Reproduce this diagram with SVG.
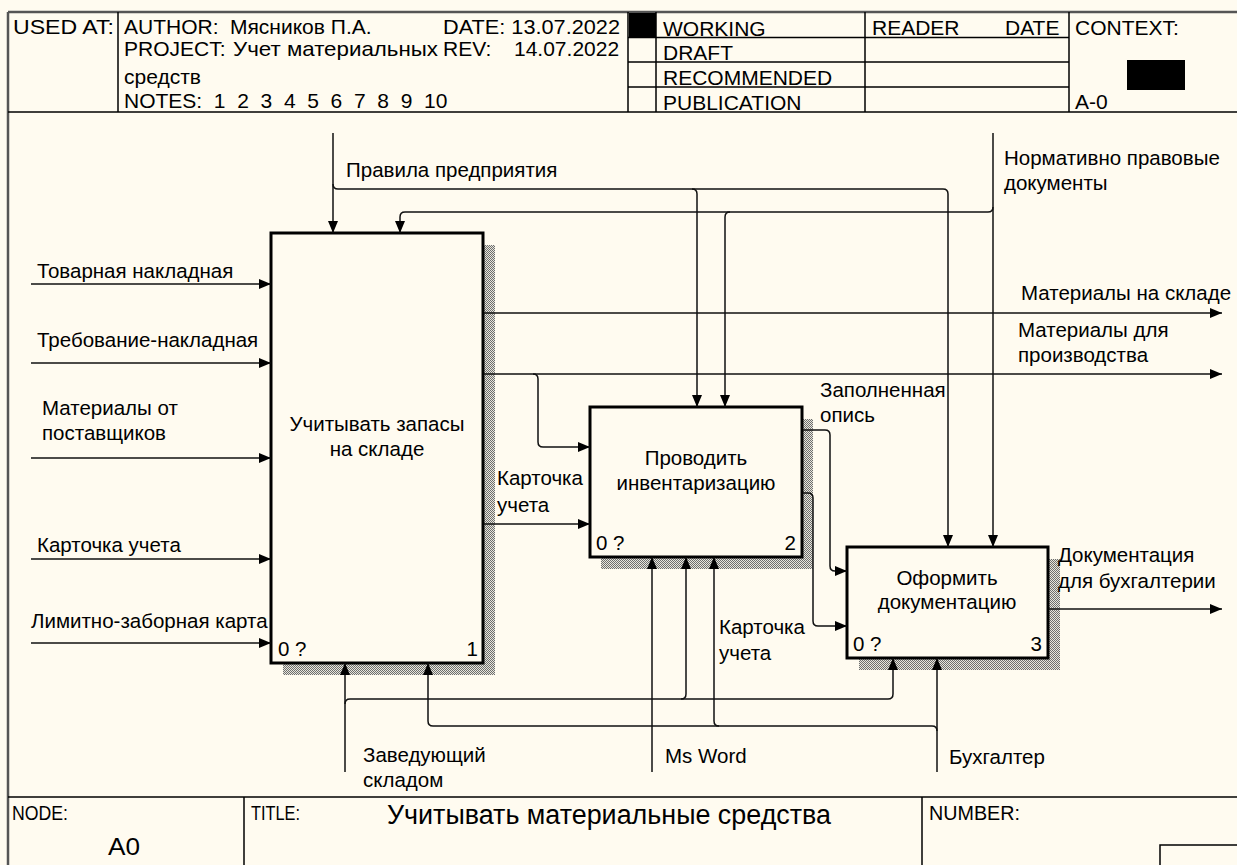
<svg xmlns="http://www.w3.org/2000/svg" width="1237" height="865" viewBox="0 0 1237 865">
<defs>
<pattern id="hatch" width="2" height="2" patternUnits="userSpaceOnUse">
<rect width="2" height="2" fill="#e8e6dc"/>
<rect width="1" height="1" fill="#6e6e6e"/>
<rect x="1" y="1" width="1" height="1" fill="#6e6e6e"/>
</pattern>
<marker id="arr" markerWidth="12" markerHeight="10" refX="12" refY="5" orient="auto" markerUnits="userSpaceOnUse">
<path d="M0,0 L12,5 L0,10 Z" fill="#000"/>
</marker>
<style>
.t{font-family:"Liberation Sans",Arial,sans-serif;font-size:20.5px;fill:#000}
.h{font-family:"Liberation Sans",Arial,sans-serif;font-size:21px;fill:#000}
.b{font-family:"Liberation Sans",Arial,sans-serif;font-size:20px;fill:#000}
.c{fill:none;stroke:#111;stroke-width:1.5}
.ca{fill:none;stroke:#111;stroke-width:1.5;marker-end:url(#arr)}
.box{fill:#fffbf0;stroke:#000;stroke-width:3}
.sh{fill:url(#hatch)}
.fr{fill:none;stroke:#000;stroke-width:1.5}
.fo{fill:none;stroke:#555;stroke-width:2.5}
</style>
</defs>
<rect width="1237" height="865" fill="#fffbf0"/>

<g id="frame">
<line class="fo" x1="8" y1="12" x2="1237" y2="12"/>
<line class="fo" x1="8" y1="12" x2="8" y2="865"/>
<line class="fr" x1="8" y1="112" x2="1237" y2="112"/>
<line class="fr" x1="118" y1="12" x2="118" y2="112"/>
<line class="fr" x1="628" y1="12" x2="628" y2="112"/>
<line class="fr" x1="656" y1="12" x2="656" y2="112"/>
<line class="fr" x1="865" y1="12" x2="865" y2="112"/>
<line class="fr" x1="1069" y1="12" x2="1069" y2="112"/>
<line class="fr" x1="628" y1="37.5" x2="1069" y2="37.5"/>
<line class="fr" x1="628" y1="62" x2="1069" y2="62"/>
<line class="fr" x1="628" y1="87" x2="1069" y2="87"/>
<rect x="629" y="13" width="27" height="24" fill="#000"/>
<rect x="1127" y="60" width="58" height="30" fill="#000"/>
<text class="h" x="13" y="34" textLength="101" lengthAdjust="spacingAndGlyphs">USED AT:</text>
<text class="h" x="124" y="34">AUTHOR:</text>
<text class="h" x="230" y="34">Мясников П.А.</text>
<text class="h" x="443" y="34" textLength="177" lengthAdjust="spacingAndGlyphs">DATE: 13.07.2022</text>
<text class="h" x="124" y="56">PROJECT:</text>
<text class="h" x="233" y="56" textLength="205" lengthAdjust="spacingAndGlyphs">Учет материальных</text>
<text class="h" x="443" y="56">REV:</text>
<text class="h" x="514" y="56">14.07.2022</text>
<text class="h" x="124" y="84">средств</text>
<text class="h" x="124" y="108" xml:space="preserve">NOTES:  1  2  3  4  5  6  7  8  9  10</text>
<text class="h" x="663" y="36">WORKING</text>
<text class="h" x="663" y="60">DRAFT</text>
<text class="h" x="663" y="85">RECOMMENDED</text>
<text class="h" x="663" y="110">PUBLICATION</text>
<text class="h" x="872" y="35">READER</text>
<text class="h" x="1005" y="35">DATE</text>
<text class="h" x="1075" y="35">CONTEXT:</text>
<text class="h" x="1075" y="109">A-0</text>

<line class="fr" x1="8" y1="797" x2="1237" y2="797"/>
<line class="fr" x1="244" y1="797" x2="244" y2="865"/>
<line class="fr" x1="922" y1="797" x2="922" y2="865"/>
<rect x="1160" y="845" width="90" height="30" fill="none" stroke="#000" stroke-width="1.5"/>
<text class="b" x="12" y="820" textLength="56" lengthAdjust="spacingAndGlyphs">NODE:</text>
<text class="b" x="108" y="855" style="font-size:24px" textLength="32" lengthAdjust="spacingAndGlyphs">A0</text>
<text class="b" x="251" y="820" textLength="49" lengthAdjust="spacingAndGlyphs">TITLE:</text>
<text class="b" x="387" y="824" style="font-size:27px" textLength="444" lengthAdjust="spacingAndGlyphs">Учитывать материальные средства</text>
<text class="b" x="929" y="820" textLength="91" lengthAdjust="spacingAndGlyphs">NUMBER:</text>
</g>

<g id="node-1">
<rect class="sh" x="483" y="245" width="12" height="430"/>
<rect class="sh" x="283" y="663" width="212" height="12"/>
<rect class="box" x="271" y="233" width="212" height="430"/>
<text class="t" x="377" y="431" text-anchor="middle">Учитывать запасы</text>
<text class="t" x="377" y="456" text-anchor="middle">на складе</text>
<text class="t" x="278" y="656">0 ?</text>
<text class="t" x="478" y="656" text-anchor="end">1</text>
</g>

<g id="node-2">
<rect class="sh" x="802" y="419" width="11" height="150"/>
<rect class="sh" x="601" y="557" width="212" height="12"/>
<rect class="box" x="590" y="407" width="212" height="150"/>
<text class="t" x="696" y="465" text-anchor="middle">Проводить</text>
<text class="t" x="696" y="490" text-anchor="middle">инвентаризацию</text>
<text class="t" x="596" y="550">0 ?</text>
<text class="t" x="796" y="550" text-anchor="end">2</text>
</g>

<g id="node-3">
<rect class="sh" x="1048" y="559" width="12" height="111"/>
<rect class="sh" x="859" y="658" width="201" height="12"/>
<rect class="box" x="847" y="547" width="201" height="111"/>
<text class="t" x="947" y="585" text-anchor="middle">Оформить</text>
<text class="t" x="947" y="609" text-anchor="middle">документацию</text>
<text class="t" x="853" y="651">0 ?</text>
<text class="t" x="1042" y="651" text-anchor="end">3</text>
</g>

<g id="connectors">
<path class="ca" d="M31,284 H271"/>
<path class="ca" d="M31,363 H271"/>
<path class="ca" d="M31,458 H271"/>
<path class="ca" d="M31,559 H271"/>
<path class="ca" d="M31,643 H271"/>
<path class="ca" d="M333,133 V233"/>
<path class="ca" d="M333,184 Q333,189 338,189 H943 Q948,189 948,194 V547"/>
<path class="ca" d="M692,189 Q697,189 697,194 V407"/>
<path class="ca" d="M993,133 V547"/>
<path class="ca" d="M993,207 Q993,212 988,212 H405 Q400,212 400,217 V233"/>
<path class="ca" d="M730,212 Q725,212 725,217 V407"/>
<path class="ca" d="M484,313 H1222"/>
<path class="ca" d="M484,374 H1222"/>
<path class="ca" d="M533,374 Q538,374 538,379 V442 Q538,447 543,447 H590"/>
<path class="ca" d="M484,524 H590"/>
<path class="ca" d="M803,430 H825 Q830,430 830,435 V566 Q830,571 835,571 H847"/>
<path class="ca" d="M803,493 H808 Q813,493 813,498 V621 Q813,626 818,626 H847"/>
<path class="ca" d="M1049,609 H1222"/>
<path class="ca" d="M345,772 V663"/>
<path class="ca" d="M345,704 Q345,699 350,699 H888 Q893,699 893,694 V658"/>
<path class="ca" d="M681,699 Q686,699 686,694 V557"/>
<path class="ca" d="M652,772 V557"/>
<path class="ca" d="M937,772 V658"/>
<path class="ca" d="M937,731 Q937,726 932,726 H433 Q428,726 428,721 V663"/>
<path class="ca" d="M719,726 Q714,726 714,721 V557"/>
</g>

<g id="labels">
<text class="t" x="37" y="278">Товарная накладная</text>
<text class="t" x="37" y="347">Требование-накладная</text>
<text class="t" x="42" y="415">Материалы от</text>
<text class="t" x="42" y="440">поставщиков</text>
<text class="t" x="37" y="552">Карточка учета</text>
<text class="t" x="31" y="628">Лимитно-заборная карта</text>
<text class="t" x="346" y="177">Правила предприятия</text>
<text class="t" x="1004" y="165">Нормативно правовые</text>
<text class="t" x="1004" y="190">документы</text>
<text class="t" x="1021" y="300">Материалы на складе</text>
<text class="t" x="1018" y="337">Материалы для</text>
<text class="t" x="1018" y="362">производства</text>
<text class="t" x="820" y="397">Заполненная</text>
<text class="t" x="820" y="422">опись</text>
<text class="t" x="497" y="485">Карточка</text>
<text class="t" x="497" y="512">учета</text>
<text class="t" x="1058" y="562">Документация</text>
<text class="t" x="1058" y="588">для бухгалтерии</text>
<text class="t" x="719" y="634">Карточка</text>
<text class="t" x="719" y="660">учета</text>
<text class="t" x="665" y="763">Ms Word</text>
<text class="t" x="949" y="764">Бухгалтер</text>
<text class="t" x="363" y="762">Заведующий</text>
<text class="t" x="363" y="787">складом</text>
</g>
</svg>
